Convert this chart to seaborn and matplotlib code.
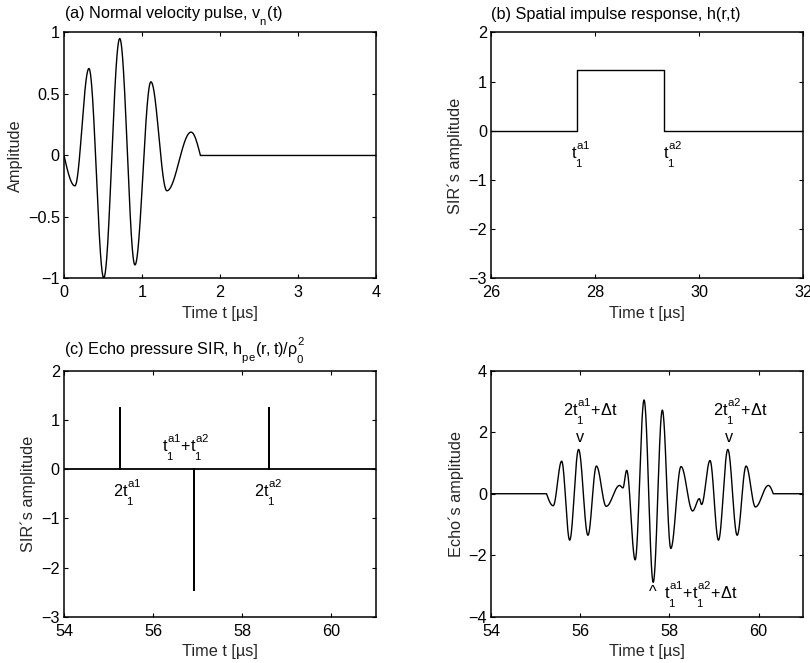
import numpy as np
import pandas as pd
import matplotlib
matplotlib.use("Agg")
import matplotlib.pyplot as plt
import matplotlib._mathtext as mathtext_internal
from matplotlib.ticker import FuncFormatter
import seaborn as sns

# ---- (a) normal velocity pulse: extrema / zero nodes (time in us) ----
pulse_t = [0.0, 0.14, 0.32, 0.51, 0.715, 0.91, 1.115, 1.32, 1.63, 1.75, 4.0]
pulse_v = [0.0, -0.247, 0.707, -0.995, 0.951, -0.89, 0.599, -0.287, 0.19, 0.0, 0.0]
pulse_kind = ["z", "e", "e", "e", "e", "e", "e", "e", "e", "z", "z"]

# ---- (b) spatial impulse response: rectangular SIR ----
sir_edges = [27.64, 29.32]
sir_level = 1.233
sir_range = [26.0, 32.0]

# ---- (c) echo pressure SIR: three impulses ----
hpe_t = [55.255, 56.92, 58.595]
hpe_h = [1.25, -2.46, 1.25]
hpe_range = [54.0, 61.0]

# ---- (d) echo signal: extrema / zero nodes ----
echo_t = [54.0, 55.24, 55.39, 55.58, 55.76, 55.96, 56.17, 56.36, 56.58, 56.88,
          56.955, 57.04, 57.23, 57.43, 57.635, 57.84, 58.03, 58.26, 58.52, 58.67,
          58.72, 58.91, 59.10, 59.31, 59.52, 59.72, 59.93, 60.22, 60.33, 61.0]
echo_v = [0.0, 0.0, -0.39, 1.06, -1.51, 1.44, -1.35, 0.90, -0.41, 0.27,
          0.19, 0.76, -2.15, 3.05, -2.88, 2.72, -1.78, 0.885, -0.56, -0.16,
          -0.35, 1.08, -1.51, 1.44, -1.35, 0.90, -0.43, 0.27, 0.0, 0.0]
echo_kind = ["z", "z"] + ["e"] * 26 + ["z", "z"]


def shaped_curve(t_nodes, v_nodes, kinds, n=80):
    """Join nodes with quarter/half cosine arcs (zero slope at extrema)."""
    xs, ys = [], []
    for i in range(len(t_nodes) - 1):
        t0, t1 = t_nodes[i], t_nodes[i + 1]
        a, b = v_nodes[i], v_nodes[i + 1]
        k0, k1 = kinds[i], kinds[i + 1]
        u = np.linspace(0, 1, n, endpoint=False)
        if k0 == "e" and k1 == "e":
            s = (1 - np.cos(np.pi * u)) / 2
        elif k0 == "e" and k1 == "z":
            s = 1 - np.cos(np.pi / 2 * u)
        elif k0 == "z" and k1 == "e":
            s = np.sin(np.pi / 2 * u)
        else:
            s = u
        xs.append(t0 + (t1 - t0) * u)
        ys.append(a + (b - a) * s)
    xs.append([t_nodes[-1]])
    ys.append([v_nodes[-1]])
    return np.concatenate(xs), np.concatenate(ys)


# TeX-like index placement: superscripts above, subscripts fully below baseline
mathtext_internal.FontConstantsBase.sup1 = 1.0
mathtext_internal.FontConstantsBase.sub1 = 0.8
mathtext_internal.FontConstantsBase.sub2 = 1.0

FS = 11.7

sns.set_theme(style="ticks")
plt.rcParams.update({
    "font.family": ["Liberation Sans", "DejaVu Sans"],
    "font.size": FS,
    "axes.labelsize": FS,
    "mathtext.fontset": "custom",
    "mathtext.rm": "Liberation Sans",
    "mathtext.it": "Liberation Sans",
    "mathtext.sf": "Liberation Sans",
    "mathtext.bf": "Liberation Sans:bold",
    "axes.linewidth": 1.1,
    "axes.edgecolor": "black",
    "xtick.direction": "in",
    "ytick.direction": "in",
    "xtick.top": True,
    "ytick.right": True,
    "xtick.major.size": 3,
    "ytick.major.size": 3,
    "xtick.major.width": 0.8,
    "ytick.major.width": 0.8,
    "xtick.labelsize": FS,
    "ytick.labelsize": FS,
    "xtick.major.pad": 5,
    "ytick.major.pad": 3,
    "xtick.color": "black",
    "ytick.color": "black",
    "text.color": "black",
})

fmt = FuncFormatter(lambda v, p: ("%g" % v).replace("-", "\u2212"))

fig = plt.figure(figsize=(8.1, 6.63), dpi=100)
W, H = 0.385, 0.371
ax_a = fig.add_axes([0.079, 0.580, W, H])
ax_b = fig.add_axes([0.6065, 0.580, W, H])
ax_c = fig.add_axes([0.079, 0.0698, W, H])
ax_d = fig.add_axes([0.6065, 0.0698, W, H])

line_kw = dict(color="black", linewidth=1.0, sort=False, estimator=None)
title_kw = dict(loc="left", va="baseline", fontsize=FS)

# (a)
x, y = shaped_curve(pulse_t, pulse_v, pulse_kind)
sns.lineplot(data=pd.DataFrame({"t": x, "v": y}), x="t", y="v", ax=ax_a, **line_kw)
ax_a.set_xlim(0, 4)
ax_a.set_ylim(-1, 1)
ax_a.set_xticks([0, 1, 2, 3, 4])
ax_a.set_yticks([-1, -0.5, 0, 0.5, 1])
ax_a.set_title(r"(a) Normal velocity pulse, $v_n(t)$", pad=10, **title_kw)
ax_a.set_ylabel("Amplitude", va="center")
ax_a.yaxis.set_label_coords(-0.154, 0.5)

# (b)
bx = [sir_range[0], sir_edges[0], sir_edges[0], sir_edges[1], sir_edges[1], sir_range[1]]
by = [0, 0, sir_level, sir_level, 0, 0]
sns.lineplot(data=pd.DataFrame({"t": bx, "v": by}), x="t", y="v", ax=ax_b, **line_kw)
ax_b.set_xlim(26, 32)
ax_b.set_ylim(-3, 2)
ax_b.set_xticks([26, 28, 30, 32])
ax_b.set_yticks([-3, -2, -1, 0, 1, 2])
ax_b.set_title("(b) Spatial impulse response, h(r,t)", pad=10, **title_kw)
ax_b.set_ylabel("SIR\u00b4s amplitude", va="center")
ax_b.yaxis.set_label_coords(-0.116, 0.5)
ax_b.text(27.53, -0.48, r"$t_1^{a1}$", ha="left", va="center", fontsize=FS)
ax_b.text(29.31, -0.48, r"$t_1^{a2}$", ha="left", va="center", fontsize=FS)

# (c)
cx, cy = [hpe_range[0]], [0.0]
for t, h in zip(hpe_t, hpe_h):
    cx += [t, t, t]
    cy += [0.0, h, 0.0]
cx.append(hpe_range[1])
cy.append(0.0)
sns.lineplot(data=pd.DataFrame({"t": cx, "v": cy}), x="t", y="v", ax=ax_c,
             color="black", linewidth=1.3, sort=False, estimator=None)
ax_c.set_xlim(54, 61)
ax_c.set_ylim(-3, 2)
ax_c.set_xticks([54, 56, 58, 60])
ax_c.set_yticks([-3, -2, -1, 0, 1, 2])
ax_c.set_title(r"(c) Echo pressure SIR, $h_{pe}(r,t)/\rho_0^2$", pad=11.5, **title_kw)
ax_c.set_ylabel("SIR\u00b4s amplitude", va="center")
ax_c.yaxis.set_label_coords(-0.114, 0.5)
ax_c.text(55.10, -0.49, r"2$t_1^{a1}$", ha="left", va="center", fontsize=FS)
ax_c.text(56.195, 0.44, r"$t_1^{a1}$+$t_1^{a2}$", ha="left", va="center", fontsize=FS)
ax_c.text(58.27, -0.49, r"2$t_1^{a2}$", ha="left", va="center", fontsize=FS)

# (d)
x, y = shaped_curve(echo_t, echo_v, echo_kind)
sns.lineplot(data=pd.DataFrame({"t": x, "v": y}), x="t", y="v", ax=ax_d, **line_kw)
ax_d.set_xlim(54, 61)
ax_d.set_ylim(-4, 4)
ax_d.set_xticks([54, 56, 58, 60])
ax_d.set_yticks([-4, -2, 0, 2, 4])
ax_d.set_ylabel("Echo\u00b4s amplitude", va="center")
ax_d.yaxis.set_label_coords(-0.111, 0.5)
ax_d.text(55.6, 2.66, r"2$t_1^{a1}$+" + "\u0394t", ha="left", va="center", fontsize=FS)
ax_d.text(55.99, 1.84, "v", ha="center", va="center", fontsize=FS)
ax_d.text(58.97, 2.66, r"2$t_1^{a2}$+" + "\u0394t", ha="left", va="center", fontsize=FS)
ax_d.text(59.34, 1.84, "v", ha="center", va="center", fontsize=FS)
ax_d.text(57.63, -3.22, "^", ha="center", va="center", fontsize=FS)
ax_d.text(57.87, -3.3, r"$t_1^{a1}$+$t_1^{a2}$+" + "\u0394t", ha="left", va="center", fontsize=FS)

for ax in (ax_a, ax_b, ax_c, ax_d):
    ax.set_xlabel("Time t [\u00b5s]", va="center")
    ax.xaxis.set_label_coords(0.5, -0.143)
    ax.xaxis.set_major_formatter(fmt)
    ax.yaxis.set_major_formatter(fmt)
    for s in ax.spines.values():
        s.set_visible(True)
        s.set_color("black")

fig.savefig("out.png", dpi=100)
